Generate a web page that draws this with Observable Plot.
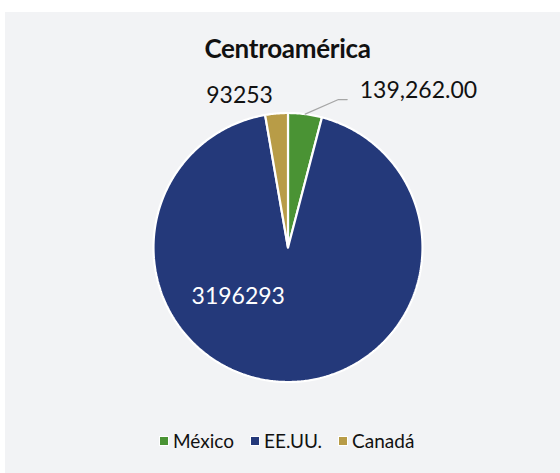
<!DOCTYPE html>
<html>
<head>
<meta charset="utf-8">
<script src="https://cdn.jsdelivr.net/npm/d3@7"></script>
<script src="https://cdn.jsdelivr.net/npm/@observablehq/plot@0.6"></script>
<style>
  html, body { margin: 0; padding: 0; background: #ffffff; }
  #frame { position: absolute; left: 5px; top: 12px; width: 555px; height: 461px; background: #f2f3f5; font-family: Lato, "Noto Sans", sans-serif; }
  #title { position: absolute; left: 0; width: 565px; top: 20px; text-align: center; font-size: 26px; font-weight: 700; color: #111; letter-spacing: -0.3px; }
  #chart { position: absolute; left: 0; top: 0; }
  #legend { position: absolute; top: 417px; left: 155px; display: flex; align-items: center; font-size: 19px; color: #111; }
  .item { display: flex; align-items: center; margin-right: 17px; }
  .sw { width: 8px; height: 8px; margin-right: 5px; box-shadow: 0 0 0 1px #fff; }
</style>
</head>
<body>
<div id="frame">
  <div id="chart"></div>
  <div id="title">Centroamérica</div>
  <div id="legend"></div>
</div>
<script>
// Data
const categories = ["México", "EE.UU.", "Canadá"];
const values = [139262, 3196293, 93253];
const valueLabels = ["139,262.00", "3196293", "93253"];
const colors = ["#4a9334", "#24397a", "#b89c47"];

// Layout (label anchor positions in pie units, radius = 1)
const labelPos = [[0.97, 1.165], [-0.37, -0.365], [-0.36, 1.13]];
const labelColor = ["#111", "#ffffff", "#111"];

const total = d3.sum(values);
let acc = 0;
const slices = categories.map((c, i) => {
  const a0 = acc / total * 2 * Math.PI;
  acc += values[i];
  const a1 = acc / total * 2 * Math.PI;
  return {cat: c, value: values[i], a0, a1, i};
});

const polys = [];
for (const s of slices) {
  polys.push({cat: s.cat, x: 0, y: 0});
  const n = Math.max(4, Math.ceil((s.a1 - s.a0) / 0.01));
  for (let k = 0; k <= n; k++) {
    const a = s.a0 + (s.a1 - s.a0) * k / n;
    polys.push({cat: s.cat, x: Math.sin(a), y: Math.cos(a)});
  }
  polys.push({cat: s.cat, x: 0, y: 0});
}

const labels = slices.map((s, i) => ({text: valueLabels[i], x: labelPos[i][0], y: labelPos[i][1], color: labelColor[i]}));

// leader line for México label
const mx = slices[0];
const mid = (mx.a0 + mx.a1) / 2;
const leader = [
  {x: Math.sin(mid), y: Math.cos(mid)},
  {x: 0.375, y: 1.10},
  {x: 0.44, y: 1.10}
];

const cx = 282.5, cy = 235, r = 134.5;
const plot = Plot.plot({
  width: 555,
  height: 461,
  margin: 0,
  style: {background: "transparent", overflow: "visible"},
  x: {domain: [-1, 1], range: [cx - r, cx + r], axis: null},
  y: {domain: [-1, 1], range: [cy + r, cy - r], axis: null},
  color: {domain: categories, range: colors},
  marks: [
    Plot.line(polys, {x: "x", y: "y", z: "cat", fill: "cat", stroke: "#ffffff", strokeWidth: 2.2, strokeLinejoin: "miter", curve: "linear"}),
    Plot.line(leader, {x: "x", y: "y", stroke: "#a6a6a6", strokeWidth: 1.2}),
    Plot.text(labels, {x: "x", y: "y", text: "text", fill: "color", fontSize: 23, fontFamily: "Lato, 'Noto Sans', sans-serif", fontWeight: 400})
  ]
});
document.getElementById("chart").appendChild(plot);

const legend = document.getElementById("legend");
categories.forEach((c, i) => {
  const item = document.createElement("div");
  item.className = "item";
  const sw = document.createElement("div");
  sw.className = "sw";
  sw.style.background = colors[i];
  const t = document.createElement("span");
  t.textContent = c;
  item.appendChild(sw);
  item.appendChild(t);
  legend.appendChild(item);
});
</script>
</body>
</html>
